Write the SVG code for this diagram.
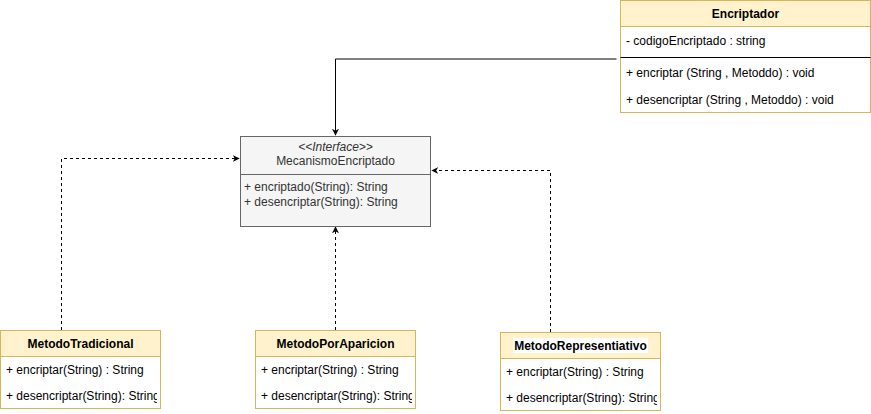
<svg xmlns="http://www.w3.org/2000/svg" width="871" height="414" viewBox="0 0 871 414">
<style>
text{font-family:"Liberation Sans",Arial,sans-serif;font-size:12px;fill:#000}
.t{font-weight:bold;text-anchor:middle}
.hdr{fill:#fff2cc;stroke:#d6b656}
.body{fill:#fff;stroke:#d6b656}
.ifc{fill:#f5f5f5;stroke:#666}
.gt{fill:#333}
.c{fill:none;stroke:#000;stroke-width:1}
.d{stroke-dasharray:3 3}
</style>
<defs>
<marker id="ar" viewBox="0 0 10 10" refX="9" refY="5" markerWidth="7" markerHeight="7" orient="auto" markerUnits="userSpaceOnUse">
<path d="M0,0 L10,5 L0,10 L3,5 Z" fill="#000"/>
</marker>
<clipPath id="c1"><rect x="0" y="356" width="157" height="53"/></clipPath>
<clipPath id="c2"><rect x="255" y="356" width="157" height="53"/></clipPath>
<clipPath id="c3"><rect x="500" y="358" width="157" height="52"/></clipPath>
</defs>
<g id="connectors">
<path class="c" d="M616.5,59 H335.5 V135" marker-end="url(#ar)"/>
<path class="c d" d="M61.5,330 V158.5 H239" marker-end="url(#ar)"/>
<path class="c d" d="M335.5,330 V227" marker-end="url(#ar)"/>
<path class="c d" d="M550.5,332 V170.5 H432" marker-end="url(#ar)"/>
</g>
<g id="Encriptador">
<rect class="body" x="620.5" y="0.5" width="250" height="112"/>
<rect class="hdr" x="620.5" y="0.5" width="250" height="26"/>
<text class="t" x="745.5" y="18">Encriptador</text>
<text x="626" y="45">- codigoEncriptado : string</text>
<line x1="620.5" y1="57.5" x2="870.5" y2="57.5" stroke="#000"/>
<text x="626" y="77">+ encriptar (String , Metoddo) : void</text>
<text x="626" y="104">+ desencriptar (String , Metoddo) : void</text>
</g>
<g id="MecanismoEncriptado">
<rect class="ifc" x="240.5" y="136.5" width="190" height="90"/>
<line x1="240.5" y1="174.5" x2="430.5" y2="174.5" stroke="#666"/>
<text class="gt" x="335.5" y="151" text-anchor="middle" font-style="italic">&lt;&lt;Interface&gt;&gt;</text>
<text class="gt" x="335.5" y="165" text-anchor="middle">MecanismoEncriptado</text>
<text class="gt" x="244" y="191">+ encriptado(String): String</text>
<text class="gt" x="244" y="206">+ desencriptar(String): String</text>
</g>
<g id="MetodoTradicional">
<rect class="body" x="0.5" y="330.5" width="160" height="78"/>
<rect class="hdr" x="0.5" y="330.5" width="160" height="26"/>
<text class="t" x="80.5" y="348">MetodoTradicional</text>
<g clip-path="url(#c1)">
<text x="6" y="374">+ encriptar(String) : String</text>
<text x="6" y="400">+ desencriptar(String): String</text>
</g>
</g>
<g id="MetodoPorAparicion">
<rect class="body" x="255.5" y="330.5" width="160" height="78"/>
<rect class="hdr" x="255.5" y="330.5" width="160" height="26"/>
<text class="t" x="335.5" y="348">MetodoPorAparicion</text>
<g clip-path="url(#c2)">
<text x="261" y="374">+ encriptar(String) : String</text>
<text x="261" y="400">+ desencriptar(String): String</text>
</g>
</g>
<g id="MetodoRepresentiativo">
<rect class="body" x="500.5" y="332.5" width="160" height="78"/>
<rect class="hdr" x="500.5" y="332.5" width="160" height="26"/>
<rect x="513" y="338" width="135" height="15" fill="#fff"/>
<text class="t" x="580.5" y="350">MetodoRepresentiativo</text>
<g clip-path="url(#c3)">
<text x="506" y="376">+ encriptar(String) : String</text>
<text x="506" y="402">+ desencriptar(String): String</text>
</g>
</g>
</svg>
